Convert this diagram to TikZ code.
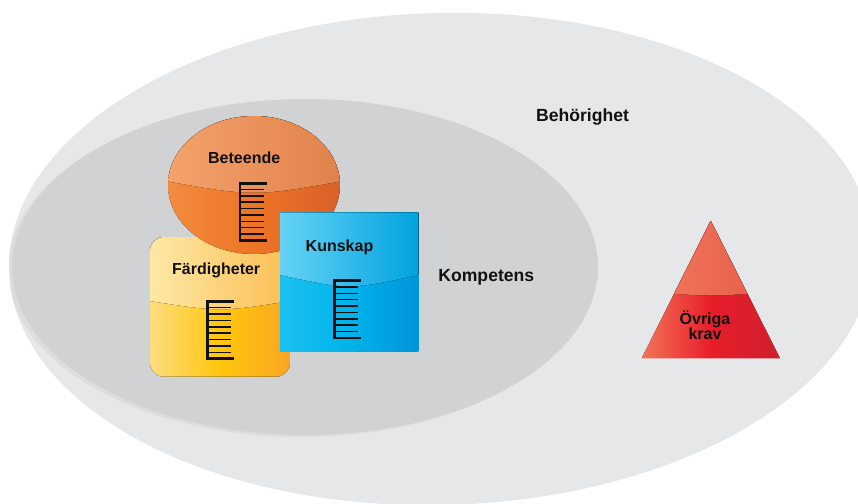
\documentclass[tikz,border=0pt]{standalone}
\usepackage{fontspec}
\setmainfont{Liberation Sans}
\definecolor{outerc}{HTML}{E6E7E8}
\definecolor{innerc}{HTML}{D1D2D4}
\definecolor{shadc}{HTML}{DCDDDF}
% Beteende (orange)
\definecolor{otl}{HTML}{F5A46C}
\definecolor{otr}{HTML}{E0804A}
\definecolor{obl}{HTML}{F28C40}
\definecolor{obm}{HTML}{EE7424}
\definecolor{obr}{HTML}{D8602A}
% Faerdigheter (yellow)
\definecolor{ftl}{HTML}{FEE8A6}
\definecolor{ftr}{HTML}{FBBE52}
\definecolor{fbl}{HTML}{FDDC80}
\definecolor{fbm}{HTML}{FFC60C}
\definecolor{fbr}{HTML}{F8A624}
% Kunskap (blue)
\definecolor{ktl}{HTML}{66D2F6}
\definecolor{ktr}{HTML}{00A3E0}
\definecolor{kbl}{HTML}{1CC1F1}
\definecolor{kbm}{HTML}{00B3EB}
\definecolor{kbr}{HTML}{0094D7}
% Triangle (red)
\definecolor{rtl}{HTML}{F27A5E}
\definecolor{rtr}{HTML}{E65A46}
\definecolor{rbl}{HTML}{F27458}
\definecolor{rbm}{HTML}{E81E2A}
\definecolor{rbr}{HTML}{CF1F2E}
\definecolor{ink}{HTML}{111111}
\tikzset{
  lab/.style={font=\fontsize{16}{15}\selectfont\bfseries, inner sep=0pt, anchor=base, text=ink},
  biglab/.style={lab, font=\fontsize{17.6}{19}\selectfont\bfseries},
  ruler/.pic={
    \draw[ink, line width=2.8pt, line join=miter] (28.4,1.4) -- (1.6,1.4) -- (1.6,58.6) -- (28.4,58.6);
    \foreach \k in {1,...,8}
      \draw[ink, line width=1.4pt] (1.6,{1.4+\k*57.2/9}) -- (25.5,{1.4+\k*57.2/9});
  }
}
\begin{document}
\begin{tikzpicture}[x=1pt,y=-1pt]
\useasboundingbox (0,0) rectangle (858,503);
\clip (0,0) rectangle (858,503);
\fill[white] (0,0) rectangle (858,503);

% Behoerighet area
\fill[outerc, rotate around={1.5:(441,259)}] (441,259) ellipse [x radius=432pt, y radius=246pt];
% faint shadow and Kompetens area
\begin{scope}
  \clip[rotate around={1.5:(441,259)}] (441,259) ellipse [x radius=432pt, y radius=246pt];
  \fill[shadc] (301,269) ellipse [x radius=293pt, y radius=168pt];
\end{scope}
\fill[innerc] (305,267) ellipse [x radius=293pt, y radius=168pt];

% Faerdigheter
\begin{scope}
  \clip[rounded corners=14pt] (150,237) rectangle (290,376.7);
  \fill[left color=fbl, right color=fbr, middle color=fbm] (150,237) rectangle (290,377);
  \fill[left color=ftl, right color=ftr] (150,237) -- (150,301) .. controls (220,312) .. (290,301) -- (290,237) -- cycle;
\end{scope}

% Beteende
\begin{scope}
  \clip (254,185) ellipse [x radius=86pt, y radius=69pt];
  \fill[left color=obl, right color=obr, middle color=obm] (168,116) rectangle (340,254);
  \fill[left color=otl, right color=otr] (160,116) -- (160,180) .. controls (254,197) .. (348,180) -- (348,116) -- cycle;
\end{scope}

% Kunskap
\begin{scope}
  \clip (280,212.7) rectangle (418.3,351.7);
  \fill[left color=kbl, right color=kbr, middle color=kbm] (280,212.7) rectangle (418.3,351.7);
  \fill[left color=ktl, right color=ktr] (280,212.7) -- (280,275) .. controls (349,290) .. (418.3,275) -- (418.3,212.7) -- cycle;
\end{scope}

% Oevriga krav triangle
\begin{scope}
  \clip (710.7,220.7) -- (641.7,358.3) -- (780,358.3) -- cycle;
  \fill[left color=rbl, right color=rbr, middle color=rbm] (641.7,220.7) rectangle (780,358.3);
  \fill[left color=rtl, right color=rtr] (641.7,220.7) -- (641.7,291) .. controls (711,297) .. (780,291) -- (780,220.7) -- cycle;
\end{scope}

% rulers
\pic at (238.3,181.7) {ruler};
\pic at (205.7,300) {ruler};
\pic at (332.7,279.3) {ruler};

% labels
\node[biglab] (beh) at (582.5,121.7) {Behörighet};
\node[biglab] (komp) at (486.3,281) {Kompetens};
\node[lab] (bet) at (244.2,163.3) {Beteende};
\node[lab] (kun) at (339.5,251.7) {Kunskap};
\node[lab] (far) at (216.2,274) {Färdigheter};
\node[lab, anchor=center, align=center] (ovr) at (705,325.5) {Övriga\\krav};
\end{tikzpicture}
\end{document}
